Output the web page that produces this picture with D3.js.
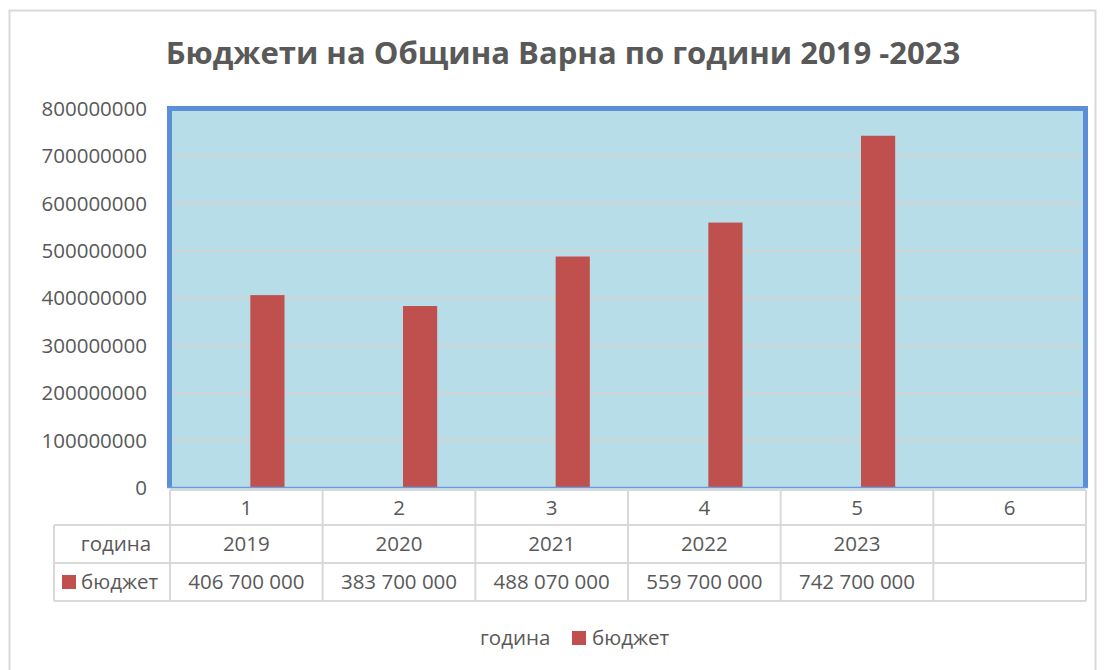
<!DOCTYPE html>
<html>
<head>
<meta charset="utf-8">
<script src="https://cdn.jsdelivr.net/npm/d3@7/dist/d3.min.js"></script>
<style>
  body { margin: 0; background: #fff; }
  text { font-family: "Open Sans", "Noto Sans", sans-serif; fill: #595959; }
</style>
</head>
<body>
<div id="chart"></div>
<script>
// data
const categories = ["1", "2", "3", "4", "5", "6"];
const years = [2019, 2020, 2021, 2022, 2023, null];
const budgets = [406700000, 383700000, 488070000, 559700000, 742700000, null];
const budgetLabels = ["406 700 000", "383 700 000", "488 070 000", "559 700 000", "742 700 000", ""];
const seriesNames = ["година", "бюджет"];
const yTicks = [0, 100000000, 200000000, 300000000, 400000000, 500000000, 600000000, 700000000, 800000000];
const title = "Бюджети на Община Варна по години 2019 -2023";

const W = 1105, H = 670;
const barColor = "#C0504D";
const fs = "20.5px";

const svg = d3.select("#chart").append("svg")
    .attr("width", W)
    .attr("height", H);

// outer chart border
svg.append("rect")
    .attr("x", 9.5).attr("y", 10.5)
    .attr("width", 1086).attr("height", 700)
    .attr("fill", "#fff")
    .attr("stroke", "#D9D9D9")
    .attr("stroke-width", 2);

// title
let titleText = svg.append("text")
    .attr("x", 563).attr("y", 64)
    .attr("text-anchor", "middle")
    .style("font-size", "28px")
    .style("font-weight", "bold")
    .text(title);
// fit title width to the reference
let tw = titleText.node().getComputedTextLength();
titleText.style("font-size", (28 * 795 / tw) + "px");

// scales
const x = d3.scaleBand()
    .domain(categories)
    .range([170, 1086]);
const xSub = d3.scaleBand()
    .domain(seriesNames)
    .range([0, x.bandwidth()])
    .paddingInner(0.19)
    .paddingOuter(0.905);
const y = d3.scaleLinear()
    .domain([0, 800000000])
    .range([488, 108.6]);

// plot area
svg.append("rect")
    .attr("x", 169.5).attr("y", 108.5)
    .attr("width", 916).attr("height", 380)
    .attr("fill", "#B7DDE8");

// grid lines
svg.append("g")
    .selectAll("line")
    .data(yTicks.slice(1))
    .join("line")
    .attr("x1", 172).attr("x2", 1084)
    .attr("y1", d => y(d)).attr("y2", d => y(d))
    .attr("stroke", "#D3D3D3")
    .attr("stroke-width", 2);

// y axis labels
let yAxis = d3.axisLeft(y)
    .tickValues(yTicks)
    .tickFormat(d3.format("d"))
    .tickSize(0)
    .tickPadding(0);
let yAxisG = svg.append("g")
    .attr("transform", "translate(147,0)")
    .call(yAxis);
yAxisG.select(".domain").remove();
yAxisG.selectAll("text")
    .attr("fill", "#595959")
    .style("font-size", fs)
    .style("font-family", "'Open Sans', sans-serif");

// bars (година series has no fill; heights ~0)
svg.append("g")
    .selectAll("rect")
    .data(categories.map((c, i) => ({c: c, v: budgets[i]})).filter(d => d.v != null))
    .join("rect")
    .attr("x", d => x(d.c) + xSub("бюджет"))
    .attr("width", xSub.bandwidth())
    .attr("y", d => y(d.v))
    .attr("height", d => y(0) - y(d.v))
    .attr("fill", barColor);

// plot frame: thick top/left/right, thin bottom
svg.append("path")
    .attr("d", "M169.5,488 L169.5,108.5 L1085.5,108.5 L1085.5,488")
    .attr("fill", "none")
    .attr("stroke", "#5A8ED6")
    .attr("stroke-width", 5);
svg.append("line")
    .attr("x1", 167).attr("x2", 1088)
    .attr("y1", 487.5).attr("y2", 487.5)
    .attr("stroke", "#6A9BDD")
    .attr("stroke-width", 1.5);

// data table
const rowY = [490, 525, 563, 601];
const gridColor = "#D9D9D9";
const table = svg.append("g");

// horizontal lines
table.append("line")
    .attr("x1", 170).attr("x2", 1086)
    .attr("y1", rowY[0]).attr("y2", rowY[0])
    .attr("stroke", gridColor).attr("stroke-width", 2);
table.selectAll("line.h")
    .data(rowY.slice(1))
    .join("line")
    .attr("class", "h")
    .attr("x1", 54).attr("x2", 1086)
    .attr("y1", d => d).attr("y2", d => d)
    .attr("stroke", gridColor).attr("stroke-width", 2);

// vertical lines
const colEdges = categories.map(c => x(c)).concat([x.range()[1]]);
table.selectAll("line.v")
    .data(colEdges)
    .join("line")
    .attr("class", "v")
    .attr("x1", d => d).attr("x2", d => d)
    .attr("y1", rowY[0]).attr("y2", rowY[3])
    .attr("stroke", gridColor).attr("stroke-width", 2);
table.append("line")
    .attr("x1", 54).attr("x2", 54)
    .attr("y1", rowY[1]).attr("y2", rowY[3])
    .attr("stroke", gridColor).attr("stroke-width", 2);

function cellRow(values, rowIndex) {
    table.append("g")
        .selectAll("text")
        .data(values)
        .join("text")
        .attr("x", (d, i) => x(categories[i]) + x.bandwidth() / 2)
        .attr("y", (rowY[rowIndex] + rowY[rowIndex + 1]) / 2)
        .attr("dy", "0.35em")
        .attr("text-anchor", "middle")
        .style("font-size", fs)
        .text(d => d == null ? "" : d);
}
cellRow(categories, 0);
cellRow(years, 1);
cellRow(budgetLabels, 2);

// row headers
table.append("text")
    .attr("x", 116).attr("y", (rowY[1] + rowY[2]) / 2)
    .attr("dy", "0.35em")
    .attr("text-anchor", "middle")
    .style("font-size", fs)
    .text(seriesNames[0]);
table.append("rect")
    .attr("x", 62).attr("y", (rowY[2] + rowY[3]) / 2 - 7)
    .attr("width", 14).attr("height", 14)
    .attr("fill", barColor);
table.append("text")
    .attr("x", 81).attr("y", (rowY[2] + rowY[3]) / 2)
    .attr("dy", "0.35em")
    .style("font-size", fs)
    .text(seriesNames[1]);

// legend
const legend = svg.append("g");
legend.append("text")
    .attr("x", 480).attr("y", 638)
    .attr("dy", "0.35em")
    .style("font-size", fs)
    .text(seriesNames[0]);
legend.append("rect")
    .attr("x", 572).attr("y", 631)
    .attr("width", 14).attr("height", 14)
    .attr("fill", barColor);
legend.append("text")
    .attr("x", 592).attr("y", 638)
    .attr("dy", "0.35em")
    .style("font-size", fs)
    .text(seriesNames[1]);
</script>
</body>
</html>
